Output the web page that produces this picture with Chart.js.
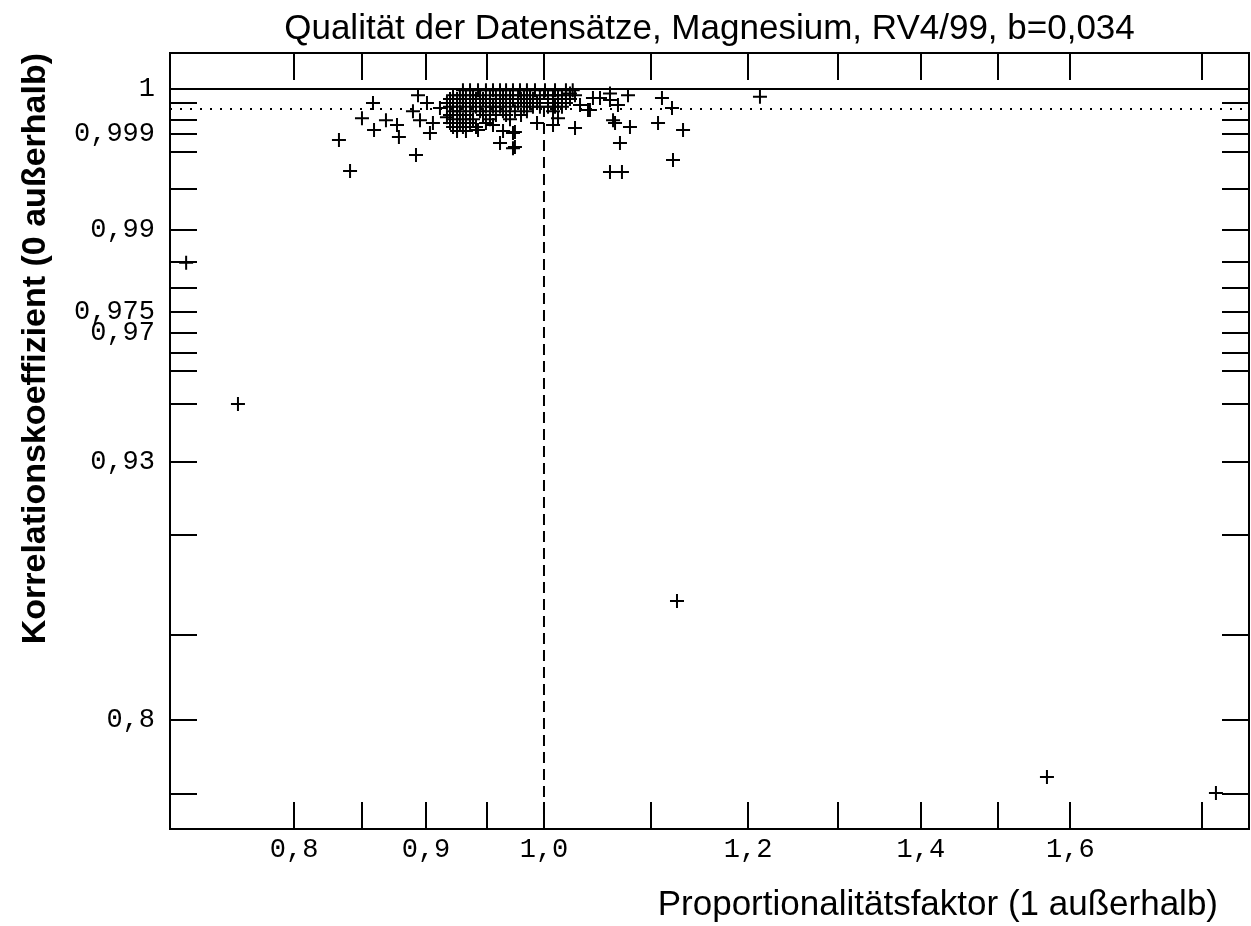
<!DOCTYPE html>
<html lang="de">
<head>
<meta charset="UTF-8" />
<title>Qualität der Datensätze</title>
<script src="https://cdn.jsdelivr.net/npm/chart.js"></script>
<style>
    html, body { margin: 0; padding: 0; background: #fff; overflow: hidden; }
    canvas { display: block; }
</style>
</head>
<body>
<canvas id="qualitaetChart" width="1251" height="926"></canvas>
<script>
    // Einzelne Datensätze: Proportionalitätsfaktor / Korrelationskoeffizient
    const faktor = [
        0.7265, 0.7609, 1.1261, 1.5669, 1.8221,
        0.8327, 0.8410, 0.8500, 0.8584, 0.8592, 0.8684, 0.8770, 0.8785, 0.8920, 0.8936,
        0.8896, 0.8952, 0.9008, 0.9032, 0.9056, 0.9113, 0.9170, 0.9253, 0.9428, 0.9615,
        0.9727, 0.9727, 0.9555, 0.9744, 0.9744, 1.0281, 1.0081, 0.9938, 1.0126, 1.0327,
        1.0419, 1.0447, 1.0513, 1.0607, 1.0607, 1.0683, 1.0636, 1.0655, 1.0798, 1.0779,
        1.1111, 1.1211, 1.1072, 1.1322, 1.0702, 1.1221, 1.0607, 1.0721, 1.0401, 1.0235,
        1.2127
    ];
    const korrelation = [
        0.9848, 0.9501, 0.8682, 0.7620, 0.7508,
        0.99869, 0.99661, 0.99957, 0.9999, 0.99915, 0.99951, 0.99935, 0.99884, 0.9978, 0.99998,
        0.99975, 0.99951, 0.9999, 0.99902, 0.99942, 0.99982, 0.9996, 0.99927, 0.99915, 0.99853,
        0.99902, 0.99824, 0.99935, 0.99907, 0.9983, 0.99923, 0.99935, 0.99942, 0.99957, 0.99987,
        0.99978, 0.99996, 0.99996, 0.99999, 0.99994, 0.99987, 0.99951, 0.99942, 0.99927, 0.99998,
        0.99996, 0.99982, 0.99942, 0.99915, 0.99853, 0.99746, 0.99653, 0.99653, 0.99978, 0.99999,
        0.99997
    ];

    // dichter Kern bei Faktor ~0.92..1.03: je Korrelationsstufe die Faktoren
    const kernKorrelation = [0.999999, 0.99998, 0.99995, 0.9999, 0.99984, 0.99975, 0.99966, 0.99954, 0.99942, 0.99927, 0.99911];
    const kernFaktoren = [
        [0.9302, 0.9361, 0.9428, 0.9495, 0.9555, 0.9615, 0.9667, 0.9727, 0.9788, 0.9849, 0.9920, 1.0009, 1.0099, 1.0198, 1.0260],
        [0.9220, 0.9277, 0.9327, 0.9386, 0.9445, 0.9529, 0.9580, 0.9641, 0.9701, 0.9771, 0.9823, 0.9876, 0.9964, 1.0036, 1.0081, 1.0126, 1.0162, 1.0281],
        [0.9195, 0.9253, 0.9302, 0.9361, 0.9411, 0.9470, 0.9529, 0.9615, 0.9667, 0.9727, 0.9797, 0.9849, 0.9902, 1.0036, 1.0081, 1.0126, 1.0162, 1.0235],
        [0.9170, 0.9220, 0.9302, 0.9386, 0.9445, 0.9495, 0.9580, 0.9641, 0.9701, 0.9771, 0.9876, 0.9938, 1.0036, 1.0081, 1.0126, 1.0198],
        [0.9195, 0.9253, 0.9327, 0.9411, 0.9495, 0.9555, 0.9615, 0.9701, 0.9823, 0.9902, 0.9964, 1.0036, 1.0099, 1.0162],
        [0.9220, 0.9277, 0.9361, 0.9445, 0.9529, 0.9641, 0.9744, 0.9849, 1.0081],
        [0.9195, 0.9253, 0.9327, 0.9470, 0.9580, 0.9667, 0.9797],
        [0.9220, 0.9302, 0.9386, 0.9529, 0.9701],
        [0.9195, 0.9277, 0.9361, 0.9495],
        [0.9220, 0.9302, 0.9411],
        [0.9253, 0.9327, 0.9641]
    ];

    const xTicks = [0.8, 0.85, 0.9, 0.95, 1.0, 1.1, 1.2, 1.3, 1.4, 1.5, 1.6, 1.8];
    const xTickLabels = ['0,8', '', '0,9', '', '1,0', '', '1,2', '', '1,4', '', '1,6', ''];
    const yTicks = [1, 0.9999, 0.9995, 0.999, 0.998, 0.995, 0.99, 0.985, 0.98, 0.975, 0.97, 0.965, 0.96, 0.95, 0.93, 0.9, 0.85, 0.8, 0.75];
    const yTickLabels = ['1', '', '', '0,999', '', '', '0,99', '', '', '0,975', '0,97', '', '', '', '0,93', '', '', '0,8', ''];

    const xMin = 0.7161, xMax = 1.8767;
    const yMin = 0.7247, yMax = 1.00065;
    const sollKorrelation = 1;
    const grenzKorrelation = 0.9998;
    const sollFaktor = 1.0;

    // Korrelationsachse: Abstand wächst mit der Wurzel von (1 - r)
    function wurzel(r) {
        const d = 1 - r;
        return d >= 0 ? Math.sqrt(d) : -Math.sqrt(-d);
    }
    function wurzelInv(t) {
        return t >= 0 ? 1 - t * t : 1 + t * t;
    }

    const LinearBasis = Chart.LinearScale || Chart.registry.getScale('linear');

    class WurzelSkala extends LinearBasis {
        configure() {
            super.configure();
            this._t0 = wurzel(this.min);
            this._t1 = wurzel(this.max);
        }
        getPixelForValue(value) {
            if (value === null || value === undefined) return NaN;
            return this.getPixelForDecimal((wurzel(value) - this._t0) / (this._t1 - this._t0));
        }
        getValueForPixel(pixel) {
            const d = this.getDecimalForPixel(pixel);
            return wurzelInv(this._t0 + d * (this._t1 - this._t0));
        }
    }
    WurzelSkala.id = 'wurzel';
    Chart.register(WurzelSkala);

    const punkte = faktor.map((f, i) => ({ x: f, y: korrelation[i] }));
    kernKorrelation.forEach((r, i) => {
        kernFaktoren[i].forEach(f => punkte.push({ x: f, y: r }));
    });

    // Rahmen, Striche nach innen auf allen vier Seiten, x-Achsentitel
    const rahmen = {
        id: 'rahmen',
        afterDraw(chart) {
            const { ctx, chartArea: a, scales } = chart;
            const len = 27;
            ctx.save();
            ctx.strokeStyle = '#000';
            ctx.lineWidth = 2;
            ctx.strokeRect(a.left, a.top, a.right - a.left, a.bottom - a.top);
            ctx.beginPath();
            scales.x.ticks.forEach(t => {
                const px = Math.round(scales.x.getPixelForValue(t.value));
                ctx.moveTo(px, a.top); ctx.lineTo(px, a.top + len);
                ctx.moveTo(px, a.bottom); ctx.lineTo(px, a.bottom - len);
            });
            scales.y.ticks.forEach(t => {
                const py = Math.round(scales.y.getPixelForValue(t.value));
                ctx.moveTo(a.left, py); ctx.lineTo(a.left + len, py);
                ctx.moveTo(a.right, py); ctx.lineTo(a.right - len, py);
            });
            ctx.stroke();
            ctx.font = '35px "Liberation Sans", Arial, sans-serif';
            ctx.fillStyle = '#000';
            ctx.textAlign = 'right';
            ctx.textBaseline = 'middle';
            ctx.fillText('Proportionalitätsfaktor (1 außerhalb)', a.right - 31, 905);
            ctx.restore();
        }
    };

    const tickFont = { family: '"Liberation Mono", "Courier New", monospace', size: 27 };

    function ohnePadding(s) {
        s.paddingLeft = 0;
        s.paddingRight = 0;
        s.paddingTop = 0;
        s.paddingBottom = 0;
    }

    new Chart(document.getElementById('qualitaetChart'), {
        type: 'scatter',
        data: {
            datasets: [
                {
                    label: 'Datensätze',
                    data: punkte,
                    pointStyle: 'cross',
                    pointRadius: 7,
                    pointBorderWidth: 2,
                    pointBorderColor: '#000',
                    borderColor: '#000'
                },
                {
                    label: 'r = 1',
                    data: [{ x: xMin, y: sollKorrelation }, { x: xMax, y: sollKorrelation }],
                    showLine: true, pointRadius: 0, borderColor: '#000', borderWidth: 2
                },
                {
                    label: 'Grenze',
                    data: [{ x: xMin, y: grenzKorrelation }, { x: xMax, y: grenzKorrelation }],
                    showLine: true, pointRadius: 0, borderColor: '#000', borderWidth: 2, borderDash: [2, 8]
                },
                {
                    label: 'Faktor 1',
                    data: [{ x: sollFaktor, y: sollKorrelation }, { x: sollFaktor, y: yMin }],
                    showLine: true, pointRadius: 0, borderColor: '#000', borderWidth: 2, borderDash: [11, 6]
                }
            ]
        },
        options: {
            responsive: false,
            animation: false,
            events: [],
            layout: { autoPadding: false, padding: { left: 0, right: 2, top: 0, bottom: 0 } },
            plugins: {
                legend: { display: false },
                tooltip: { enabled: false },
                title: {
                    display: true,
                    fullSize: false,
                    text: 'Qualität der Datensätze, Magnesium, RV4/99, b=0,034',
                    color: '#000',
                    font: { family: '"Liberation Sans", Arial, sans-serif', size: 35, weight: 'normal' },
                    padding: { top: 8, bottom: 3 }
                }
            },
            scales: {
                x: {
                    type: 'logarithmic',
                    min: xMin,
                    max: xMax,
                    bounds: 'data',
                    grid: { display: false, drawTicks: false },
                    border: { display: false },
                    afterBuildTicks: s => { s.ticks = xTicks.map(v => ({ value: v })); },
                    afterFit: s => { s.height = 97; ohnePadding(s); },
                    ticks: {
                        autoSkip: false,
                        maxRotation: 0,
                        minRotation: 0,
                        padding: 5,
                        color: '#000',
                        font: tickFont,
                        callback: (v, i) => xTickLabels[i]
                    }
                },
                y: {
                    type: 'wurzel',
                    min: yMin,
                    max: yMax,
                    bounds: 'data',
                    grid: { display: false, drawTicks: false },
                    border: { display: false },
                    afterBuildTicks: s => { s.ticks = yTicks.map(v => ({ value: v })); },
                    afterFit: s => { s.width = 170; ohnePadding(s); },
                    ticks: {
                        autoSkip: false,
                        padding: 15,
                        color: '#000',
                        font: tickFont,
                        callback: (v, i) => yTickLabels[i]
                    },
                    title: {
                        display: true,
                        text: 'Korrelationskoeffizient (0 außerhalb)',
                        align: 'end',
                        color: '#000',
                        font: { family: '"Liberation Sans", Arial, sans-serif', size: 34, weight: 'bold' },
                        padding: { top: 15, bottom: 0 }
                    }
                }
            }
        },
        plugins: [rahmen]
    });
</script>
</body>
</html>
